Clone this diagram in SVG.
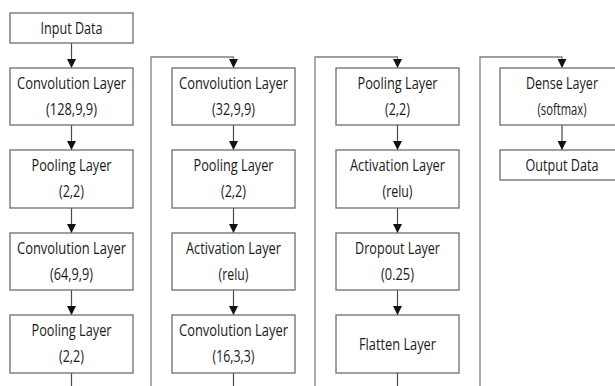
<svg xmlns="http://www.w3.org/2000/svg" width="615" height="386" viewBox="0 0 615 386">
<defs>
<style>
.box{fill:#fff;stroke:#6e6e6e;stroke-width:1.3}
.ln{fill:none;stroke:#4a4a4a;stroke-width:1.2}
.lo{fill:none;stroke:#808080;stroke-width:1.3}
text{font-family:"Open Sans","Liberation Sans",sans-serif;font-size:16.5px;fill:#1a1a1a;text-anchor:middle}
</style>
<marker id="ah" markerUnits="userSpaceOnUse" markerWidth="10" markerHeight="9" refX="9" refY="4.5" orient="auto">
<path d="M0,0 L9,4.5 L0,9 Z" fill="#111"/>
</marker>
</defs>
<rect width="615" height="386" fill="#fff"/>
<g id="connectors">
<path class="ln" d="M71.5,43 V68" marker-end="url(#ah)"/>
<path class="ln" d="M71.5,125 V150" marker-end="url(#ah)"/>
<path class="ln" d="M71.5,208 V233" marker-end="url(#ah)"/>
<path class="ln" d="M71.5,290 V315" marker-end="url(#ah)"/>
<path class="ln" d="M71.5,373 V392"/>
<path class="lo" d="M151,392 V57 H233.5 V68" marker-end="url(#ah)"/>
<path class="ln" d="M233.5,125 V150" marker-end="url(#ah)"/>
<path class="ln" d="M233.5,208 V233" marker-end="url(#ah)"/>
<path class="ln" d="M233.5,290 V315" marker-end="url(#ah)"/>
<path class="ln" d="M233.5,373 V392"/>
<path class="lo" d="M315,392 V57 H397.5 V68" marker-end="url(#ah)"/>
<path class="ln" d="M397.5,125 V150" marker-end="url(#ah)"/>
<path class="ln" d="M397.5,208 V233" marker-end="url(#ah)"/>
<path class="ln" d="M397.5,290 V315" marker-end="url(#ah)"/>
<path class="ln" d="M397.5,373 V392"/>
<path class="lo" d="M480,392 V57 H562 V68" marker-end="url(#ah)"/>
<path class="ln" d="M562,125 V150" marker-end="url(#ah)"/>
</g>
<g id="input"><rect class="box" x="10" y="13" width="123" height="30"/><text x="71.5" y="33.5" textLength="62" lengthAdjust="spacingAndGlyphs">Input Data</text></g>
<g id="conv1"><rect class="box" x="10" y="68" width="123" height="57"/><text x="71.5" y="89" textLength="109" lengthAdjust="spacingAndGlyphs">Convolution Layer</text><text x="71.5" y="114.5" textLength="51" lengthAdjust="spacingAndGlyphs">(128,9,9)</text></g>
<g id="pool1"><rect class="box" x="10" y="150" width="123" height="58"/><text x="71.5" y="171" textLength="80" lengthAdjust="spacingAndGlyphs">Pooling Layer</text><text x="71.5" y="196.5" textLength="25" lengthAdjust="spacingAndGlyphs">(2,2)</text></g>
<g id="conv2"><rect class="box" x="10" y="233" width="123" height="57"/><text x="71.5" y="254" textLength="109" lengthAdjust="spacingAndGlyphs">Convolution Layer</text><text x="71.5" y="279.5" textLength="43" lengthAdjust="spacingAndGlyphs">(64,9,9)</text></g>
<g id="pool2"><rect class="box" x="10" y="315" width="123" height="58"/><text x="71.5" y="336" textLength="80" lengthAdjust="spacingAndGlyphs">Pooling Layer</text><text x="71.5" y="361.5" textLength="25" lengthAdjust="spacingAndGlyphs">(2,2)</text></g>

<g id="conv3"><rect class="box" x="172" y="68" width="123" height="57"/><text x="233.5" y="89" textLength="109" lengthAdjust="spacingAndGlyphs">Convolution Layer</text><text x="233.5" y="114.5" textLength="43" lengthAdjust="spacingAndGlyphs">(32,9,9)</text></g>
<g id="pool3"><rect class="box" x="172" y="150" width="123" height="58"/><text x="233.5" y="171" textLength="80" lengthAdjust="spacingAndGlyphs">Pooling Layer</text><text x="233.5" y="196.5" textLength="25" lengthAdjust="spacingAndGlyphs">(2,2)</text></g>
<g id="act1"><rect class="box" x="172" y="233" width="123" height="57"/><text x="233.5" y="254" textLength="95" lengthAdjust="spacingAndGlyphs">Activation Layer</text><text x="233.5" y="279.5" textLength="30" lengthAdjust="spacingAndGlyphs">(relu)</text></g>
<g id="conv4"><rect class="box" x="172" y="315" width="123" height="58"/><text x="233.5" y="336" textLength="109" lengthAdjust="spacingAndGlyphs">Convolution Layer</text><text x="233.5" y="361.5" textLength="42" lengthAdjust="spacingAndGlyphs">(16,3,3)</text></g>

<g id="pool4"><rect class="box" x="336" y="68" width="123" height="57"/><text x="397.5" y="89" textLength="80" lengthAdjust="spacingAndGlyphs">Pooling Layer</text><text x="397.5" y="114.5" textLength="25" lengthAdjust="spacingAndGlyphs">(2,2)</text></g>
<g id="act2"><rect class="box" x="336" y="150" width="123" height="58"/><text x="397.5" y="171" textLength="95" lengthAdjust="spacingAndGlyphs">Activation Layer</text><text x="397.5" y="196.5" textLength="30" lengthAdjust="spacingAndGlyphs">(relu)</text></g>
<g id="drop"><rect class="box" x="336" y="233" width="123" height="57"/><text x="397.5" y="254" textLength="85" lengthAdjust="spacingAndGlyphs">Dropout Layer</text><text x="397.5" y="279.5" textLength="33" lengthAdjust="spacingAndGlyphs">(0.25)</text></g>
<g id="flatten"><rect class="box" x="336" y="315" width="123" height="58"/><text x="397.5" y="349.5" textLength="77" lengthAdjust="spacingAndGlyphs">Flatten Layer</text></g>

<g id="dense"><rect class="box" x="500" y="68" width="124" height="57"/><text x="562" y="89" textLength="72" lengthAdjust="spacingAndGlyphs">Dense Layer</text><text x="562" y="114.5" textLength="49" lengthAdjust="spacingAndGlyphs">(softmax)</text></g>
<g id="output"><rect class="box" x="500" y="150" width="124" height="30"/><text x="562" y="170.5" textLength="73" lengthAdjust="spacingAndGlyphs">Output Data</text></g>
</svg>
